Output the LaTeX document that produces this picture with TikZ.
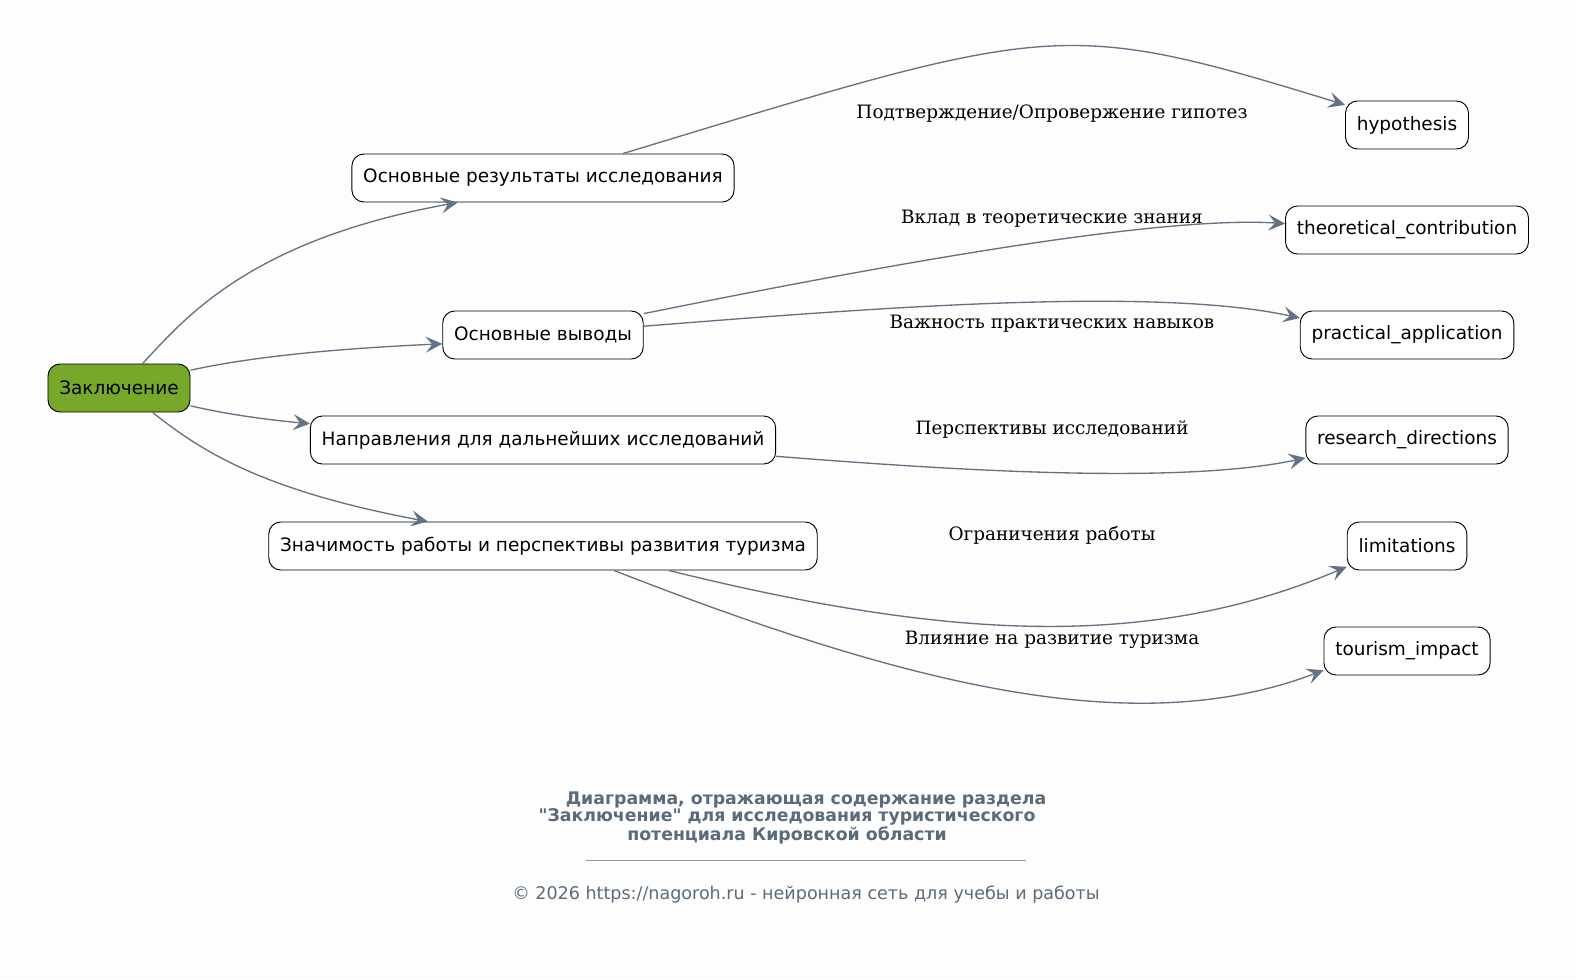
\documentclass[tikz,border=0pt]{standalone}
\usepackage{fontspec}
\setmainfont{DejaVu Serif}
\setsansfont{DejaVu Sans}
\usetikzlibrary{arrows.meta, positioning}
\definecolor{pagebg}{HTML}{FDFDFD}
\definecolor{rootfill}{HTML}{77A82A}
\definecolor{edgecol}{HTML}{637383}
\definecolor{captcol}{HTML}{5B6B7B}

\begin{document}
\begin{tikzpicture}[
    x=0.75pt, y=-0.75pt,
    every node/.style={font=\sffamily\fontsize{13.85}{16}\selectfont},
    box/.style={rectangle, draw, fill=white, rounded corners=9pt,
                minimum height=36pt, inner xsep=8.5pt, line width=0.7pt},
    root/.style={box, fill=rootfill},
    lbl/.style={font=\rmfamily\fontsize{13.8}{16}\selectfont},
    capt/.style={font=\sffamily\bfseries\fontsize{13}{15}\selectfont, text=captcol, inner sep=0pt},
    foot/.style={font=\sffamily\fontsize{13.15}{15}\selectfont, text=captcol, inner sep=0pt},
    arr/.style={-{Stealth[length=12.5pt, width=12pt, inset=5pt]}, draw=edgecol, line width=1pt}
]
    \fill[pagebg] (0,0) rectangle (1576,979);
    \useasboundingbox (0,0) rectangle (1576,979);

    % left column
    \node[root] (concl)  at (119,388) {Заключение};
    \node[box]  (res)    at (543,178) {Основные результаты исследования};
    \node[box]  (find)   at (543,335) {Основные выводы};
    \node[box]  (dirs)   at (543,440) {Направления для дальнейших исследований};
    \node[box]  (signif) at (543,546) {Значимость работы и перспективы развития туризма};

    % right column
    \node[box] (hyp)  at (1407,125) {hypothesis};
    \node[box] (theo) at (1407,230) {theoretical\_contribution};
    \node[box] (prac) at (1407,335) {practical\_application};
    \node[box] (resd) at (1407,440) {research\_directions};
    \node[box] (lim)  at (1407,546) {limitations};
    \node[box] (tour) at (1407,651) {tourism\_impact};

    % edge labels
    \node[lbl] (lhyp)  at (1052,114) {Подтверждение/Опровержение гипотез};
    \node[lbl] (ltheo) at (1052,219) {Вклад в теоретические знания};
    \node[lbl] (lprac) at (1052,324) {Важность практических навыков};
    \node[lbl] (lresd) at (1052,430) {Перспективы исследований};
    \node[lbl] (llim)  at (1052,535) {Ограничения работы};
    \node[lbl] (ltour) at (1052,640) {Влияние на развитие туризма};

    \draw[arr] (concl.46)  .. controls (185,318) and (250,240) .. (res.196);
    \draw[arr] (concl.14)  .. controls (260,355) and (350,348) .. (find.185);
    \draw[arr] (concl.-14) .. controls (230,415) and (270,420) .. (dirs.176);
    \draw[arr] (concl.-36) .. controls (200,450) and (260,490) .. (signif.168);

    \draw[arr] (res.17)     .. controls (1053,23) and (1059,17) .. (hyp.162);
    \draw[arr] (find.12)    .. controls (850,272) and (1150,215) .. (theo.177);
    \draw[arr] (find.5)     .. controls (850,310) and (1150,285) .. (prac.171);
    \draw[arr] (dirs.-4)    .. controls (950,470) and (1180,485) .. (resd.190);
    \draw[arr] (signif.-11) .. controls (950,640) and (1150,650) .. (lim.199);
    \draw[arr] (signif.-19) .. controls (920,690) and (1140,740) .. (tour.193);

    % caption
    \node[capt] (cap1) at (806,800) {Диаграмма, отражающая содержание раздела};
    \node[capt] (cap2) at (787,817) {\textquotedbl Заключение\textquotedbl{} для исследования туристического};
    \node[capt] (cap3) at (787,835) {потенциала Кировской области};
    \node[capt] (rule) at (806,860) {\textcolor{captcol!70}{\rule{330pt}{0.6pt}}};
    \node[foot] (foot) at (806,894) {© 2026 https://nagoroh.ru - нейронная сеть для учебы и работы};
\end{tikzpicture}
\end{document}
